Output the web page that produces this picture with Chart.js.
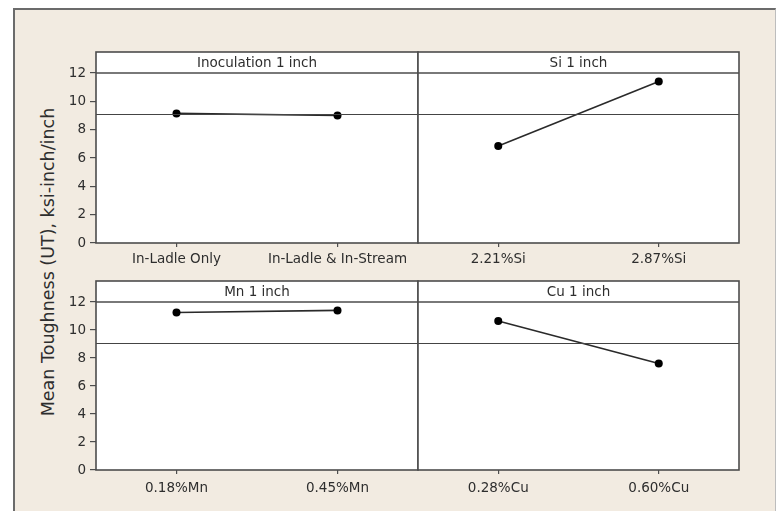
<!DOCTYPE html>
<html>
<head>
<meta charset="utf-8">
<script src="https://cdn.jsdelivr.net/npm/chart.js@4/dist/chart.umd.min.js"></script>
<style>
  html, body { margin: 0; padding: 0; background: #ffffff; width: 777px; height: 511px; overflow: hidden; }
  #frame {
    position: absolute; left: 13px; top: 8px; width: 763px; height: 520px;
    background: #F2EBE1; box-sizing: border-box;
    border-left: 2px solid #6b6b6b; border-top: 2px solid #6b6b6b; border-right: 1px solid #bdbdbd;
  }
  canvas { position: absolute; }
  #c1 { left: 56px;  top: 40px;  }
  #c2 { left: 416px; top: 40px;  }
  #c3 { left: 56px;  top: 278px; }
  #c4 { left: 416px; top: 278px; }
  #ytitle {
    position: absolute; left: 48px; top: 262px;
    transform: translate(-50%, -50%) rotate(-90deg);
    white-space: nowrap; font: 17.5px "DejaVu Sans", sans-serif; color: #2e2e2e;
  }
</style>
</head>
<body>
<div id="frame"></div>
<div id="ytitle">Mean Toughness (UT), ksi-inch/inch</div>
<canvas id="c1" width="364" height="236"></canvas>
<canvas id="c2" width="354" height="236"></canvas>
<canvas id="c3" width="364" height="233"></canvas>
<canvas id="c4" width="354" height="233"></canvas>
<script>
// Factor levels and mean toughness per level (ksi-inch/inch)
const inocLevels = ['In-Ladle Only', 'In-Ladle & In-Stream'];
const inocMeans  = [9.15, 9.0];
const siLevels   = ['2.21%Si', '2.87%Si'];
const siMeans    = [6.85, 11.4];
const mnLevels   = ['0.18%Mn', '0.45%Mn'];
const mnMeans    = [11.25, 11.4];
const cuLevels   = ['0.28%Cu', '0.60%Cu'];
const cuMeans    = [10.65, 7.6];

const panelTitles = ['Inoculation 1 inch', 'Si 1 inch', 'Mn 1 inch', 'Cu 1 inch'];
const grandMean = 9.08;
const yMin = 0, yMax = 12, yStep = 2;

const FONT = '"DejaVu Sans", sans-serif';
const TEXT = '#2e2e2e';
const LINE = '#4d4d4d';
const STRIP_H = 21;

// Panel background, strip header, border and grand-mean reference line
const panelPlugin = {
  id: 'panel',
  beforeDraw(chart) {
    const { ctx, chartArea: a } = chart;
    ctx.save();
    ctx.fillStyle = '#ffffff';
    ctx.fillRect(a.left, a.top - STRIP_H, a.right - a.left, a.bottom - a.top + STRIP_H);
    ctx.restore();
  },
  afterDatasetsDraw(chart, args, opts) {
    const { ctx, chartArea: a, scales } = chart;
    ctx.save();
    // grand mean line
    const ym = Math.round(scales.y.getPixelForValue(grandMean)) + 0.5;
    ctx.strokeStyle = '#444444';
    ctx.lineWidth = 1.2;
    ctx.beginPath(); ctx.moveTo(a.left, ym); ctx.lineTo(a.right, ym); ctx.stroke();
    // strip bottom line
    ctx.strokeStyle = LINE;
    ctx.lineWidth = 1.6;
    ctx.beginPath(); ctx.moveTo(a.left, a.top); ctx.lineTo(a.right, a.top); ctx.stroke();
    // outer border
    ctx.strokeRect(a.left, a.top - STRIP_H, a.right - a.left, a.bottom - a.top + STRIP_H);
    // strip title
    ctx.fillStyle = TEXT;
    ctx.font = '13.5px ' + FONT;
    ctx.textAlign = 'center';
    ctx.textBaseline = 'middle';
    ctx.fillText(opts.title, (a.left + a.right) / 2, a.top - STRIP_H / 2 + 0.5);
    ctx.restore();
  }
};

function makePanel(id, labels, values, title, opt) {
  const ctx = document.getElementById(id);
  return new Chart(ctx, {
    type: 'line',
    data: {
      labels: labels,
      datasets: [{
        data: values,
        borderColor: '#2a2a2a',
        borderWidth: 1.6,
        pointRadius: 4,
        pointBackgroundColor: '#000000',
        pointBorderColor: '#000000',
        pointBorderWidth: 0,
        tension: 0
      }]
    },
    options: {
      responsive: false,
      animation: false,
      events: [],
      layout: {
        autoPadding: false,
        padding: { top: opt.padTop, left: opt.padLeft, right: opt.padRight, bottom: 0 }
      },
      plugins: {
        legend: { display: false },
        tooltip: { enabled: false },
        title: { display: false },
        panel: { title: title }
      },
      scales: {
        x: {
          type: 'category',
          offset: true,
          grid: { offset: false, drawOnChartArea: false, tickLength: 4, color: LINE, lineWidth: 1.2 },
          border: { display: false },
          ticks: { color: TEXT, font: { family: FONT, size: 13.5 }, padding: opt.xPad, maxRotation: 0, autoSkip: false },
          afterFit(s) { s.height = opt.xHeight; s.paddingLeft = 0; s.paddingRight = 0; }
        },
        y: {
          display: opt.showY,
          min: yMin, max: yMax,
          grid: { drawOnChartArea: false, tickLength: 6, color: LINE, lineWidth: 1.2 },
          border: { display: false },
          ticks: { stepSize: yStep, color: TEXT, font: { family: FONT, size: 13.5 }, padding: 4 },
          afterFit(s) { s.width = opt.yWidth; s.paddingTop = 0; s.paddingBottom = 0; }
        }
      }
    },
    plugins: [panelPlugin]
  });
}

makePanel('c1', inocLevels, inocMeans, panelTitles[0],
  { padTop: 33, padLeft: 0, padRight: 2, showY: true, yWidth: 40, xHeight: 33, xPad: 4 });
makePanel('c2', siLevels, siMeans, panelTitles[1],
  { padTop: 33, padLeft: 2, padRight: 31, showY: false, yWidth: 0, xHeight: 33, xPad: 4 });
makePanel('c3', mnLevels, mnMeans, panelTitles[2],
  { padTop: 24, padLeft: 0, padRight: 2, showY: true, yWidth: 40, xHeight: 41, xPad: 6 });
makePanel('c4', cuLevels, cuMeans, panelTitles[3],
  { padTop: 24, padLeft: 2, padRight: 31, showY: false, yWidth: 0, xHeight: 41, xPad: 6 });
</script>
</body>
</html>
